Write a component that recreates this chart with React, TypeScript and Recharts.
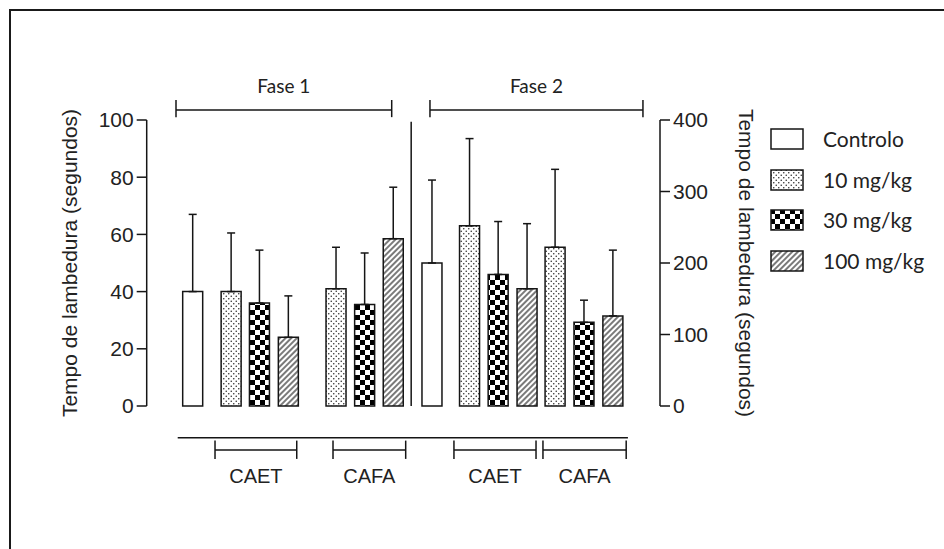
import React from 'react';
import { BarChart, Bar, Cell, XAxis, YAxis, ErrorBar, ReferenceLine } from 'recharts';

// dose groups (legend order)
const DOSES = ['Controlo', '10 mg/kg', '30 mg/kg', '100 mg/kg'];
const PATTERNS = ['pNone', 'pDots', 'pChecker', 'pHatch'];

// bars per phase: control, then CAET 10/30/100, then CAFA 10/30/100
const BAR_DOSE = [0, 1, 2, 3, 1, 2, 3];
const FASE1_MEAN = [40, 40, 36, 24, 41, 35.5, 58.5];
const FASE1_SD = [27, 20.5, 18.5, 14.5, 14.5, 18, 18];
const FASE2_MEAN = [200, 252, 184, 164, 222, 117, 126];
const FASE2_SD = [116, 122, 74, 91, 109, 31, 92];

const LEFT_TICKS = [0, 20, 40, 60, 80, 100];
const RIGHT_TICKS = [0, 100, 200, 300, 400];

// slot positions along the hidden numeric x axis
const FASE1_X = [0, 1.33, 2.31, 3.31, 4.96, 5.95, 6.94];
const FASE2_X = [8.28, 9.58, 10.57, 11.57, 12.54, 13.54, 14.54];
const X_DOMAIN = [-1.592, 16.17];

const INK = '#151515';
const AXIS_FONT = '"Liberation Sans", Arial, sans-serif';
const GILL = 'Lato, "Open Sans", sans-serif';

// brackets drawn in left-axis units
const TOP_BRACKETS = [
  { label: 'Fase 1', x1: -0.578, x2: 6.886 },
  { label: 'Fase 2', x1: 8.21, x2: 15.58 },
];
const BOTTOM_BRACKETS = [
  { label: 'CAET', x1: 0.772, x2: 3.6 },
  { label: 'CAFA', x1: 4.855, x2: 7.37 },
  { label: 'CAET', x1: 9.04, x2: 11.88 },
  { label: 'CAFA', x1: 12.12, x2: 15.0 },
];

const rows = [
  ...FASE1_MEAN.map((v, i) => ({
    x: FASE1_X[i],
    f1: v,
    f1err: [0, FASE1_SD[i]],
    f2: null as number | null,
    f2err: null as number[] | null,
    pat: PATTERNS[BAR_DOSE[i]],
  })),
  ...FASE2_MEAN.map((v, i) => ({
    x: FASE2_X[i],
    f1: null as number | null,
    f1err: null as number[] | null,
    f2: v,
    f2err: [0, FASE2_SD[i]],
    pat: PATTERNS[BAR_DOSE[i]],
  })),
];

function Patterns() {
  return (
    <defs>
      <pattern id="pNone" width="4" height="4" patternUnits="userSpaceOnUse">
        <rect width="4" height="4" fill="#fff" />
      </pattern>
      <pattern id="pDots" width="5" height="5" patternUnits="userSpaceOnUse">
        <rect width="5" height="5" fill="#fff" />
        <circle cx="1.25" cy="1.25" r="0.8" fill="#333" />
        <circle cx="3.75" cy="3.75" r="0.8" fill="#333" />
      </pattern>
      <pattern id="pChecker" width="10" height="10" patternUnits="userSpaceOnUse">
        <rect width="10" height="10" fill="#fff" />
        <rect width="5" height="5" fill="#000" />
        <rect x="5" y="5" width="5" height="5" fill="#000" />
      </pattern>
      <pattern id="pHatch" width="4" height="4" patternUnits="userSpaceOnUse" patternTransform="rotate(45)">
        <rect width="4" height="4" fill="#fff" />
        <line x1="1" y1="0" x2="1" y2="4" stroke="#333" strokeWidth="1.3" />
      </pattern>
    </defs>
  );
}

function bracketLines(b: { label: string; x1: number; x2: number }, y: number, t1: number, t2: number, pos: 'top' | 'bottom', off: number, font: string, key: string) {
  const common = { xAxisId: 'x1', yAxisId: 'left', stroke: INK, strokeWidth: 1.5, ifOverflow: 'visible' as const };
  return [
    <ReferenceLine
      key={key + 'h'}
      {...common}
      segment={[{ x: b.x1, y }, { x: b.x2, y }]}
      label={{ value: b.label, position: pos, offset: off, fill: '#222', fontSize: pos === 'top' ? 19 : 20, fontFamily: font }}
    />,
    <ReferenceLine key={key + 'a'} {...common} segment={[{ x: b.x1, y: t1 }, { x: b.x1, y: t2 }]} />,
    <ReferenceLine key={key + 'b'} {...common} segment={[{ x: b.x2, y: t1 }, { x: b.x2, y: t2 }]} />,
  ];
}

function LegendBox() {
  return (
    <div style={{ position: 'absolute', left: 770, top: 128 }}>
      {DOSES.map((d, i) => (
        <div key={d} style={{ position: 'absolute', left: 0, top: i * 40.7, width: 160, height: 22 }}>
          <svg width={34} height={22} style={{ position: 'absolute', left: 0, top: 0 }}>
            <rect x={1} y={1} width={32} height={20} fill={`url(#${PATTERNS[i]})`} stroke={INK} strokeWidth={1.5} />
          </svg>
          <span
            style={{
              position: 'absolute',
              left: 53,
              top: -2,
              fontFamily: GILL,
              fontSize: 21,
              color: '#222',
              whiteSpace: 'nowrap',
              lineHeight: '26px',
            }}
          >
            {d}
          </span>
        </div>
      ))}
    </div>
  );
}

export default function App() {
  const tick = { fill: '#222', fontSize: 21, fontFamily: AXIS_FONT };
  return (
    <div style={{ position: 'absolute', left: 0, top: 0, width: 944, height: 549, background: '#fff', overflow: 'hidden' }}>
      <div
        style={{
          position: 'absolute',
          left: 9,
          top: 9,
          width: 940,
          height: 545,
          borderTop: '2px solid #1a1a1a',
          borderLeft: '2px solid #1a1a1a',
        }}
      />
      <BarChart width={944} height={549} data={rows} margin={{ top: 120, right: 184, bottom: 143, left: 50 }}>
        <Patterns />
        <XAxis xAxisId="x1" dataKey="x" type="number" domain={X_DOMAIN} allowDataOverflow hide />
        <XAxis xAxisId="x2" dataKey="x" type="number" domain={X_DOMAIN} allowDataOverflow hide />
        <YAxis
          yAxisId="left"
          orientation="left"
          width={96.7}
          domain={[0, 100]}
          ticks={LEFT_TICKS}
          interval={0}
          tickSize={10}
          tickMargin={3}
          tick={tick}
          axisLine={{ stroke: INK, strokeWidth: 1.5 }}
          tickLine={{ stroke: INK, strokeWidth: 1.5 }}
          label={{
            value: 'Tempo de lambedura (segundos)',
            angle: -90,
            position: 'insideLeft',
            offset: 20,
            fill: '#222',
            fontSize: 21,
            fontFamily: AXIS_FONT,
            style: { textAnchor: 'middle' },
          }}
        />
        <YAxis
          yAxisId="right"
          orientation="right"
          width={100}
          domain={[0, 400]}
          ticks={RIGHT_TICKS}
          interval={0}
          tickSize={10}
          tickMargin={3}
          tick={tick}
          axisLine={{ stroke: INK, strokeWidth: 1.5 }}
          tickLine={{ stroke: INK, strokeWidth: 1.5 }}
          label={{
            value: 'Tempo de lambedura (segundos)',
            angle: 90,
            position: 'insideRight',
            offset: 14,
            fill: '#222',
            fontSize: 21,
            fontFamily: AXIS_FONT,
            style: { textAnchor: 'middle' },
          }}
        />
        <Bar dataKey="f1" xAxisId="x1" yAxisId="left" barSize={20} stroke={INK} strokeWidth={1.5} isAnimationActive={false}>
          {rows.map((r, i) => (
            <Cell key={i} fill={`url(#${r.pat})`} />
          ))}
          <ErrorBar dataKey="f1err" direction="y" width={4} stroke={INK} strokeWidth={1.5} />
        </Bar>
        <Bar dataKey="f2" xAxisId="x2" yAxisId="right" barSize={20} stroke={INK} strokeWidth={1.5} isAnimationActive={false}>
          {rows.map((r, i) => (
            <Cell key={i} fill={`url(#${r.pat})`} />
          ))}
          <ErrorBar dataKey="f2err" direction="y" width={4} stroke={INK} strokeWidth={1.5} />
        </Bar>
        {/* divider between the two phases */}
        <ReferenceLine
          xAxisId="x1"
          yAxisId="left"
          segment={[{ x: 7.56, y: 0 }, { x: 7.56, y: 99.4 }]}
          stroke={INK}
          strokeWidth={1.5}
          ifOverflow="visible"
        />
        {TOP_BRACKETS.flatMap((b, i) => bracketLines(b, 103.5, 107, 101, 'top', 17, GILL, 't' + i))}
        <ReferenceLine
          xAxisId="x1"
          yAxisId="left"
          segment={[{ x: -0.519, y: -11.1 }, { x: 15.06, y: -11.1 }]}
          stroke={INK}
          strokeWidth={1.5}
          ifOverflow="visible"
        />
        {BOTTOM_BRACKETS.flatMap((b, i) => bracketLines(b, -15.4, -12.1, -18.5, 'bottom', 19, AXIS_FONT, 'b' + i))}
      </BarChart>
      <LegendBox />
    </div>
  );
}
